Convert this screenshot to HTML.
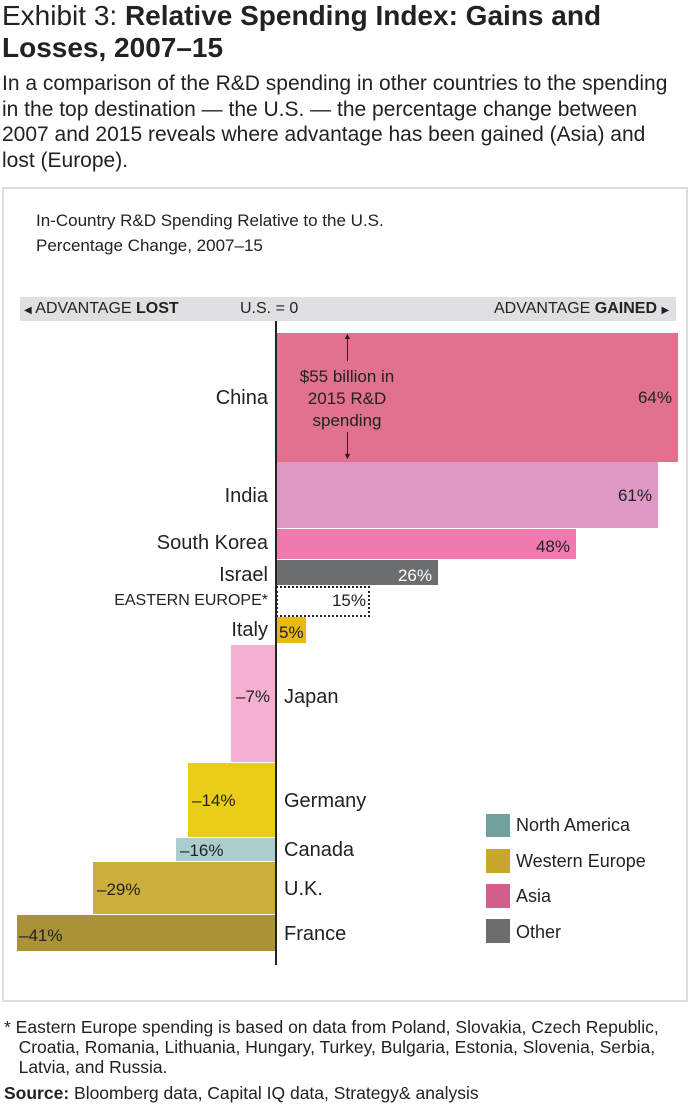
<!DOCTYPE html>
<html><head><meta charset="utf-8"><style>
body{margin:0;width:690px;height:1113px;background:#fff;font-family:"Liberation Sans Narrow","Liberation Sans",sans-serif;color:#222;position:relative;overflow:hidden}
.a{position:absolute;white-space:nowrap}
.b{position:absolute}
.r{text-align:right}
</style></head><body>
<div class="a" style="left:2px;top:0;font-size:28px;line-height:32px">Exhibit 3: <b>Relative Spending Index: Gains and</b></div>
<div class="a" style="left:2px;top:32px;font-size:28px;line-height:32px"><b>Losses, 2007–15</b></div>
<div class="a" style="left:2px;top:71px;font-size:21px;line-height:25.5px">In a comparison of the R&amp;D spending in other countries to the spending<br>in the top destination — the U.S. — the percentage change between<br>2007 and 2015 reveals where advantage has been gained (Asia) and<br>lost (Europe).</div>
<div class="b" style="left:2px;top:187px;width:682px;height:811px;border:2px solid #ddd"></div>
<div class="a" style="left:36px;top:208px;font-size:17px;line-height:25px">In-Country R&amp;D Spending Relative to the U.S.<br>Percentage Change, 2007–15</div>
<div class="b" style="left:20px;top:297px;width:656px;height:24px;background:#e0e0e2"></div>
<div class="a" style="left:24px;top:299px;font-size:16px;line-height:20px"><span style="font-size:10px">◀</span> ADVANTAGE <b>LOST</b></div>
<div class="a" style="left:240px;top:299px;font-size:16px;line-height:20px">U.S. = 0</div>
<div class="a" style="left:494px;top:299px;font-size:16px;line-height:20px">ADVANTAGE <b>GAINED</b> <span style="font-size:10px">▶</span></div>
<div class="b" style="left:276px;top:333px;width:402px;height:129px;background:#e07290"></div>
<div class="b" style="left:276px;top:462px;width:382px;height:66px;background:#dd99c3"></div>
<div class="b" style="left:276px;top:529px;width:300px;height:30px;background:#f07aae"></div>
<div class="b" style="left:276px;top:560px;width:162px;height:25px;background:#6c6d6f"></div>
<div class="b" style="left:276px;top:586px;border:2px dotted #222;box-sizing:border-box;width:94px;height:31px"></div>
<div class="b" style="left:276px;top:617px;width:30px;height:26px;background:#e6b913"></div>
<div class="b" style="left:231px;top:645px;width:45px;height:117px;background:#f5b0d2"></div>
<div class="b" style="left:188px;top:763px;width:88px;height:74px;background:#eacd18"></div>
<div class="b" style="left:176px;top:838px;width:100px;height:23px;background:#abcdcd"></div>
<div class="b" style="left:93px;top:862px;width:183px;height:52px;background:#cbaf3c"></div>
<div class="b" style="left:17px;top:915px;width:259px;height:36px;background:#a99336"></div>
<div class="b" style="left:275px;top:321px;width:2px;height:644px;background:#222"></div>
<div class="a r" style="right:18px;top:388px;font-size:17px">64%</div>
<div class="a r" style="right:38px;top:486px;font-size:17px">61%</div>
<div class="a r" style="right:120px;top:537px;font-size:17px">48%</div>
<div class="a r" style="right:258px;top:566px;font-size:17px;color:#fff">26%</div>
<div class="a r" style="right:324px;top:591px;font-size:17px">15%</div>
<div class="a" style="left:279px;top:623px;font-size:17px">5%</div>
<div class="a r" style="right:420px;top:687px;font-size:17px">–7%</div>
<div class="a" style="left:192px;top:791px;font-size:17px">–14%</div>
<div class="a" style="left:180px;top:841px;font-size:17px">–16%</div>
<div class="a" style="left:97px;top:880px;font-size:17px">–29%</div>
<div class="a" style="left:19px;top:926px;font-size:17px">–41%</div>
<div class="a r" style="right:422px;top:387px;font-size:20px">China</div>
<div class="a r" style="right:422px;top:485px;font-size:20px">India</div>
<div class="a r" style="right:422px;top:532px;font-size:20px">South Korea</div>
<div class="a r" style="right:422px;top:564px;font-size:20px">Israel</div>
<div class="a r" style="right:422px;top:592px;font-size:16px">EASTERN EUROPE*</div>
<div class="a r" style="right:422px;top:619px;font-size:20px">Italy</div>
<div class="a" style="left:284px;top:686px;font-size:20px">Japan</div>
<div class="a" style="left:284px;top:790px;font-size:20px">Germany</div>
<div class="a" style="left:284px;top:839px;font-size:20px">Canada</div>
<div class="a" style="left:284px;top:878px;font-size:20px">U.K.</div>
<div class="a" style="left:284px;top:923px;font-size:20px">France</div>
<div class="b" style="left:347px;top:336px;width:1px;height:25px;background:#222"></div>
<div class="a" style="left:343px;top:331px;font-size:9px">▲</div>
<div class="a" style="left:280px;top:366px;width:134px;text-align:center;font-size:17px;line-height:22px">$55 billion in<br>2015 R&amp;D<br>spending</div>
<div class="b" style="left:347px;top:432px;width:1px;height:24px;background:#222"></div>
<div class="a" style="left:343px;top:451px;font-size:9px">▼</div>
<div class="b" style="left:486px;top:814px;width:24px;height:23px;background:#72a09c"></div>
<div class="b" style="left:486px;top:849px;width:24px;height:24px;background:#c8a72c"></div>
<div class="b" style="left:486px;top:884px;width:24px;height:24px;background:#d15e8c"></div>
<div class="b" style="left:486px;top:919px;width:24px;height:24px;background:#6c6d6f"></div>
<div class="a" style="left:516px;top:815px;font-size:18px">North America</div>
<div class="a" style="left:516px;top:851px;font-size:18px">Western Europe</div>
<div class="a" style="left:516px;top:886px;font-size:18px">Asia</div>
<div class="a" style="left:516px;top:922px;font-size:18px">Other</div>
<div class="a" style="left:4px;top:1017px;font-size:17.5px;line-height:20px">* Eastern Europe spending is based on data from Poland, Slovakia, Czech Republic,<br>&nbsp;&nbsp;&nbsp;Croatia, Romania, Lithuania, Hungary, Turkey, Bulgaria, Estonia, Slovenia, Serbia,<br>&nbsp;&nbsp;&nbsp;Latvia, and Russia.</div>
<div class="a" style="left:4px;top:1083px;font-size:17.5px;line-height:20px"><b>Source:</b> Bloomberg data, Capital IQ data, Strategy&amp; analysis</div>
</body></html>
